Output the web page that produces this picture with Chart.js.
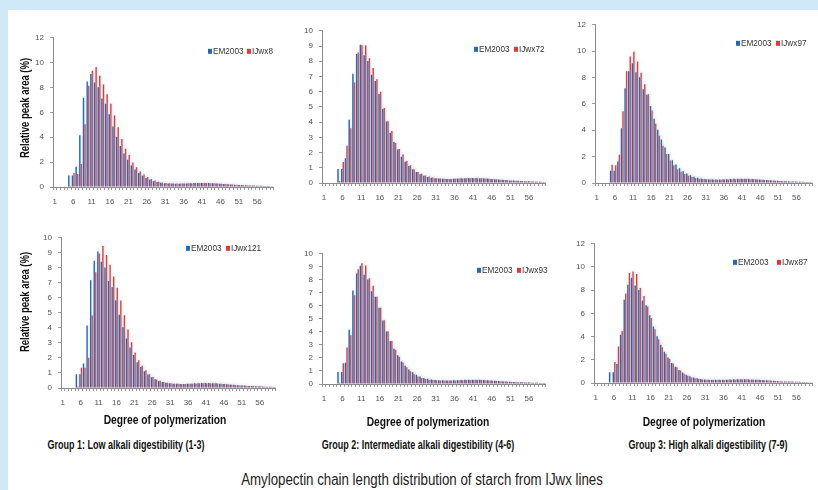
<!DOCTYPE html>
<html>
<head>
<meta charset="utf-8">
<script src="https://cdn.jsdelivr.net/npm/chart.js@4.4.0/dist/chart.umd.min.js"></script>
<style>
    body { margin: 0; width: 818px; height: 490px; background: #cfe9f8; position: relative; overflow: hidden;
           font-family: 'Liberation Sans Narrow', 'Liberation Sans', Arial, sans-serif; }
    #sheet { position: absolute; left: 8px; top: 10px; right: 0; bottom: 0; background: #fff; }
    canvas { position: absolute; }
    .txt { position: absolute; white-space: nowrap; color: #111; z-index: 2; }
    .ytitle { font-size: 12px; font-weight: bold; transform: translate(-50%, -50%) rotate(-90deg) scaleX(0.79); }
    .xtitle { font-size: 13px; font-weight: bold; transform: translate(-50%, -50%) scaleX(0.79); }
    .group { font-size: 12.5px; font-weight: bold; transform: translate(-50%, -50%) scaleX(0.72); }
    .main { font-size: 16px; color: #222; transform: translate(-50%, -50%) scaleX(0.83); }
</style>
</head>
<body>
<div id="sheet"></div>

<div class="txt ytitle" style="left:25px; top:108px;">Relative peak area (%)</div>
<div class="txt ytitle" style="left:25px; top:302px;">Relative peak area (%)</div>
<div class="txt xtitle" style="left:165px; top:419px;">Degree of polymerization</div>
<div class="txt xtitle" style="left:428px; top:421px;">Degree of polymerization</div>
<div class="txt xtitle" style="left:704px; top:421px;">Degree of polymerization</div>
<div class="txt group" style="left:126px; top:445px;">Group 1: Low alkali digestibility (1-3)</div>
<div class="txt group" style="left:418px; top:445px;">Group 2: Intermediate alkali digestibility (4-6)</div>
<div class="txt group" style="left:708px; top:445px;">Group 3: High alkali digestibility (7-9)</div>
<div class="txt main" style="left:422px; top:480px;">Amylopectin chain length distribution of starch from IJwx lines</div>

<script>
// Degree of polymerization (categories)
const dp = [1, 2, 3, 4, 5, 6, 7, 8, 9, 10, 11, 12, 13, 14, 15, 16, 17, 18, 19, 20,
            21, 22, 23, 24, 25, 26, 27, 28, 29, 30, 31, 32, 33, 34, 35, 36, 37, 38, 39, 40,
            41, 42, 43, 44, 45, 46, 47, 48, 49, 50, 51, 52, 53, 54, 55, 56, 57, 58, 59, 60];

// Control line, same in every panel
const em2003 = [0, 0, 0, 0, 0.92, 0.92, 1.63, 4.16, 7.18, 8.48, 9.08, 8.40, 8.02, 7.12, 6.70, 5.85, 4.87, 4.04, 3.30, 2.70,
                2.20, 1.72, 1.40, 1.12, 0.90, 0.72, 0.58, 0.47, 0.40, 0.35, 0.31, 0.29, 0.28, 0.27, 0.27, 0.28, 0.29, 0.31, 0.32, 0.33,
                0.33, 0.33, 0.32, 0.31, 0.29, 0.27, 0.25, 0.23, 0.21, 0.19, 0.17, 0.16, 0.14, 0.13, 0.12, 0.11, 0.10, 0.09, 0.08, 0.07];

// IJwx lines
const ijwx8 = [0, 0, 0, 0, 0.10, 1.12, 1.05, 1.85, 5.05, 8.15, 9.35, 9.65, 8.95, 8.25, 7.45, 6.70, 5.75, 4.80, 3.87, 3.08,
               2.58, 1.97, 1.58, 1.25, 1.00, 0.80, 0.65, 0.52, 0.43, 0.37, 0.33, 0.30, 0.29, 0.28, 0.28, 0.29, 0.30, 0.31, 0.32, 0.33,
               0.33, 0.32, 0.31, 0.30, 0.28, 0.26, 0.24, 0.22, 0.20, 0.18, 0.17, 0.15, 0.14, 0.13, 0.12, 0.11, 0.10, 0.09, 0.08, 0.07];
const ijwx72 = [0, 0, 0, 0, 0.13, 1.38, 2.45, 3.60, 6.60, 8.58, 9.05, 9.05, 8.20, 7.55, 6.82, 6.00, 4.92, 4.06, 3.42, 2.62,
                2.24, 1.88, 1.44, 1.16, 0.88, 0.73, 0.60, 0.50, 0.42, 0.36, 0.32, 0.29, 0.28, 0.27, 0.27, 0.28, 0.29, 0.30, 0.31, 0.32,
                0.32, 0.32, 0.31, 0.30, 0.28, 0.26, 0.24, 0.22, 0.20, 0.18, 0.16, 0.15, 0.14, 0.13, 0.12, 0.11, 0.10, 0.09, 0.08, 0.07];
const ijwx97 = [0, 0, 0, 0, 1.39, 1.34, 2.14, 5.44, 8.47, 9.60, 9.96, 9.22, 8.37, 7.50, 6.73, 5.49, 4.50, 3.58, 2.83, 2.20,
                1.71, 1.35, 1.05, 0.85, 0.68, 0.55, 0.45, 0.38, 0.33, 0.30, 0.28, 0.26, 0.25, 0.25, 0.25, 0.26, 0.27, 0.28, 0.29, 0.30,
                0.30, 0.30, 0.29, 0.28, 0.27, 0.25, 0.23, 0.21, 0.19, 0.17, 0.16, 0.14, 0.13, 0.12, 0.11, 0.10, 0.09, 0.08, 0.07, 0.06];
const ijwx121 = [0, 0, 0, 0, 0.10, 1.35, 1.35, 2.02, 4.82, 7.70, 8.95, 9.45, 8.85, 8.20, 7.43, 6.67, 5.82, 4.84, 3.90, 3.05,
                 2.37, 1.85, 1.48, 1.18, 0.92, 0.74, 0.57, 0.48, 0.40, 0.35, 0.31, 0.29, 0.28, 0.27, 0.27, 0.28, 0.29, 0.30, 0.31, 0.32,
                 0.32, 0.32, 0.31, 0.30, 0.28, 0.26, 0.24, 0.22, 0.20, 0.18, 0.17, 0.15, 0.14, 0.13, 0.12, 0.11, 0.10, 0.09, 0.08, 0.07];
const ijwx93 = [0, 0, 0, 0, 0.10, 1.60, 2.80, 3.75, 6.82, 8.82, 9.27, 9.10, 8.12, 7.55, 6.70, 5.85, 4.90, 4.05, 3.30, 2.63,
                2.10, 1.65, 1.28, 0.97, 0.75, 0.58, 0.46, 0.38, 0.33, 0.30, 0.28, 0.27, 0.26, 0.26, 0.26, 0.27, 0.28, 0.29, 0.30, 0.31,
                0.31, 0.31, 0.30, 0.29, 0.27, 0.25, 0.23, 0.21, 0.19, 0.17, 0.16, 0.15, 0.14, 0.13, 0.12, 0.11, 0.10, 0.09, 0.08, 0.07];
const ijwx87 = [0, 0, 0, 0, 0, 1.82, 3.14, 4.49, 7.71, 9.48, 9.62, 9.39, 8.19, 7.51, 6.59, 5.60, 4.63, 3.78, 3.08, 2.52,
                2.10, 1.68, 1.35, 1.07, 0.80, 0.62, 0.48, 0.40, 0.34, 0.30, 0.28, 0.26, 0.25, 0.25, 0.25, 0.26, 0.27, 0.28, 0.29, 0.30,
                0.30, 0.30, 0.29, 0.28, 0.27, 0.25, 0.23, 0.21, 0.19, 0.17, 0.16, 0.14, 0.13, 0.12, 0.11, 0.10, 0.09, 0.08, 0.07, 0.06];

// Y axis settings per panel
const yMax = [12, 10, 12, 10, 10, 12];
const yStep = [2, 1, 2, 1, 1, 2];

const BLUE = '#2468b2';
const RED = '#e2383b';

// Panel placement: plot area edges in page pixels, legend spots
const panels = [
    { name: 'IJwx8',   values: ijwx8,   l: 53,  r: 278, t: 35,  b: 187, leg: [208, 247, 13] },
    { name: 'IJwx72',  values: ijwx72,  l: 322, r: 550, t: 28,  b: 183, leg: [474, 514, 18] },
    { name: 'IJwx97',  values: ijwx97,  l: 595, r: 817, t: 22,  b: 183, leg: [736, 776, 18] },
    { name: 'IJwx121', values: ijwx121, l: 61,  r: 280, t: 235, b: 388, leg: [186, 226, 10] },
    { name: 'IJwx93',  values: ijwx93,  l: 322, r: 550, t: 251, b: 384, leg: [477, 517, 16] },
    { name: 'IJwx87',  values: ijwx87,  l: 594, r: 817, t: 241, b: 383, leg: [733, 777, 18] }
];

// Legend drawn inside the plot area, as in the Excel original
const innerLegend = {
    id: 'innerLegend',
    afterDraw(chart, args, opts) {
        const { ctx, chartArea } = chart;
        ctx.save();
        ctx.font = '8.2px "Liberation Sans", Arial, sans-serif';
        ctx.textBaseline = 'middle';
        const y = chartArea.top + opts.y;
        chart.data.datasets.forEach((ds, i) => {
            const x = chartArea.left + opts.xs[i];
            ctx.fillStyle = ds.backgroundColor;
            ctx.fillRect(x, y - 2, 4, 5);
            ctx.fillStyle = '#333';
            ctx.fillText(ds.label, x + 5, y + 0.5);
        });
        ctx.restore();
    }
};

// Soft halo around the bars
const barHalo = {
    id: 'barHalo',
    beforeDatasetsDraw(chart) {
        const ctx = chart.ctx;
        ctx.save();
        ctx.shadowColor = 'rgba(170, 190, 210, 0.45)';
        ctx.shadowBlur = 2.5;
        ctx.shadowOffsetX = 1;
        ctx.shadowOffsetY = -1;
    },
    afterDatasetsDraw(chart) {
        chart.ctx.restore();
    }
};

const tickFont = { family: "'Liberation Sans Narrow', 'Liberation Sans', Arial, sans-serif", size: 8 };

const makeChart = (p, idx) => {
    const padTop = 8, yw = 30, xh = 24;
    const canvas = document.createElement('canvas');
    canvas.width = (p.r - p.l) + yw + 1;
    canvas.height = (p.b - p.t) + padTop + xh;
    canvas.style.left = (p.l - yw) + 'px';
    canvas.style.top = (p.t - padTop) + 'px';
    document.body.appendChild(canvas);

    new Chart(canvas, {
        type: 'bar',
        data: {
            labels: dp,
            datasets: [
                { label: 'EM2003', data: em2003, backgroundColor: BLUE },
                { label: p.name, data: p.values, backgroundColor: RED }
            ]
        },
        options: {
            responsive: false,
            animation: false,
            events: [],
            categoryPercentage: 0.85,
            barPercentage: 0.9,
            layout: { padding: { top: padTop, right: 1, left: 0, bottom: 0 } },
            plugins: {
                legend: { display: false },
                tooltip: { enabled: false },
                innerLegend: { xs: [p.leg[0] - p.l, p.leg[1] - p.l], y: p.leg[2] }
            },
            scales: {
                x: {
                    grid: { offset: true, drawOnChartArea: false, tickLength: 3, color: '#9a9a9a' },
                    border: { color: '#8a8a8a' },
                    ticks: {
                        autoSkip: false, maxRotation: 0, padding: 7, font: tickFont, color: '#555',
                        callback: (v, i) => (i % 5 === 0 ? String(dp[i]) : '')
                    },
                    afterFit: (s) => { s.height = xh; }
                },
                y: {
                    min: 0, max: yMax[idx],
                    grid: { drawOnChartArea: false, tickLength: 3, color: '#9a9a9a' },
                    border: { color: '#8a8a8a' },
                    ticks: { stepSize: yStep[idx], padding: 6, font: tickFont, color: '#555' },
                    afterFit: (s) => { s.width = yw; }
                }
            }
        },
        plugins: [barHalo, innerLegend]
    });
};

panels.forEach(makeChart);
</script>
</body>
</html>
